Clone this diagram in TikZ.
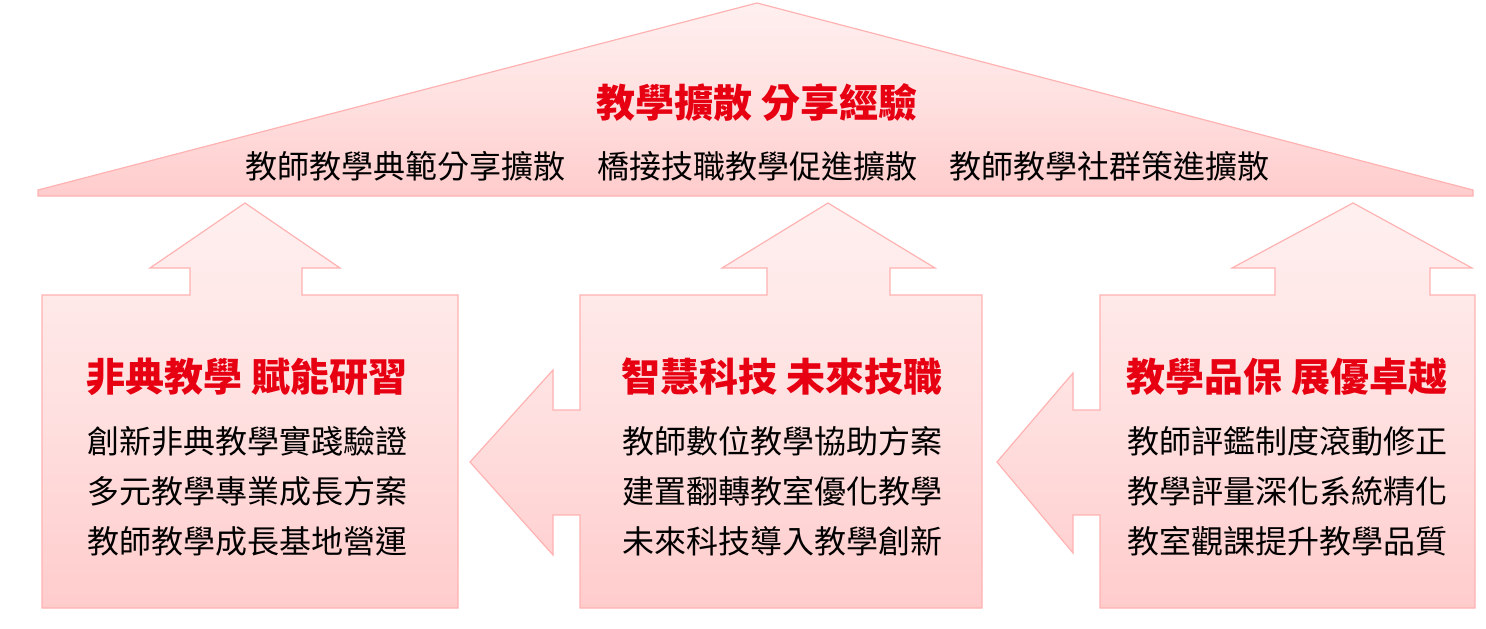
\documentclass[tikz,border=0pt]{standalone}
\usepackage{fontspec}
\setmainfont{Noto Sans CJK TC}
\definecolor{ttl}{RGB}{230,0,18}
\begin{document}
\begin{tikzpicture}[x=1pt,y=-1pt,
  panel/.style={draw=red!30,line width=1.2pt,top color=red!6,bottom color=red!20,middle color=red!12},
  ttlt/.style={font=\fontsize{39}{44}\selectfont\bfseries,text=ttl},
  body/.style={font=\fontsize{32}{50}\selectfont,align=center}]
\useasboundingbox (0,0) rectangle (1486,629);
% roof
\draw[panel] (38,190) -- (757,3) -- (1473,190) -- (1473,196) -- (38,196) -- cycle;
\node[ttlt] (rt) at (757,103) {教學擴散 分享經驗};
\node[body] (rb) at (757,166) {教師教學典範分享擴散\quad 橋接技職教學促進擴散\quad 教師教學社群策進擴散};
% left
\draw[panel] (42,295) -- (190,295) -- (190,268) -- (150,268) -- (245,203) -- (340,268) -- (302,268) -- (302,295) -- (458,295) -- (458,608) -- (42,608) -- cycle;
\node[ttlt] (lt) at (247,377) {非典教學 賦能研習};
\node[body] (lb) at (247,491) {創新非典教學實踐驗證\\多元教學專業成長方案\\教師教學成長基地營運};
% middle
\draw[panel] (580,295) -- (767,295) -- (767,268) -- (722,268) -- (828,203) -- (935,268) -- (890,268) -- (890,295) -- (982,295) -- (982,608) -- (580,608) -- (580,515) -- (553,515) -- (553,555) -- (470,462) -- (553,370) -- (553,410) -- (580,410) -- cycle;
\node[ttlt] (mt) at (782,377) {智慧科技 未來技職};
\node[body] (mb) at (782,491) {教師數位教學協助方案\\建置翻轉教室優化教學\\未來科技導入教學創新};
% right
\draw[panel] (1100,295) -- (1275,295) -- (1275,268) -- (1232,268) -- (1353,203) -- (1472,268) -- (1430,268) -- (1430,295) -- (1475,295) -- (1475,608) -- (1100,608) -- (1100,515) -- (1073,515) -- (1073,553) -- (997,462) -- (1073,373) -- (1073,410) -- (1100,410) -- cycle;
\node[ttlt] (qt) at (1287,377) {教學品保 展優卓越};
\node[body] (qb) at (1287,491) {教師評鑑制度滾動修正\\教學評量深化系統精化\\教室觀課提升教學品質};
\end{tikzpicture}
\end{document}
